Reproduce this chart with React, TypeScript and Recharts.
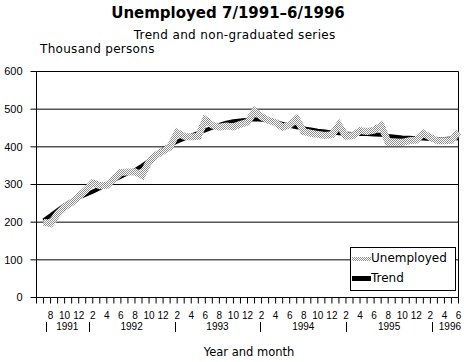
import React from 'react';
import { LineChart, Line, XAxis, YAxis, CartesianGrid, ReferenceLine, Legend } from 'recharts';

// Month index 1 = 7/1991 ... 60 = 6/1996 (index 0 = 6/1991, axis start)
const unemployed = [
  200, 196, 222, 240, 252, 268, // Jul-Dec 1991
  285, 304, 297, 298, 315, 332, 333, 334, 324, 360, 378, 388, // 1992
  400, 438, 428, 426, 428, 472, 458, 452, 455, 453, 460, 465, // 1993
  495, 480, 470, 464, 452, 458, 474, 440, 436, 433, 430, 432, // 1994
  458, 428, 430, 443, 441, 444, 456, 412, 413, 412, 416, 418, // 1995
  436, 425, 416, 416, 417, 440, // Jan-Jun 1996
];

const trend = [
  205, 218, 232, 245, 256, 265, // Jul-Dec 1991
  273, 281, 290, 302, 312, 321, 330, 338, 350, 363, 378, 393, // 1992
  404, 414, 422, 430, 437, 444, 451, 458, 464, 468, 470, 472, // 1993
  473, 472, 470, 466, 461, 456, 452, 449, 446, 443, 441, 438, // 1994
  436, 435, 434, 434, 434, 433, 432, 429, 427, 425, 424, 423, // 1995
  422, 421, 421, 421, 422, 423, // Jan-Jun 1996
];

const monthLabels = [
  '', '', '8', '', '10', '', '12', '', '2', '', '4', '', '6',
  '', '8', '', '10', '', '12', '', '2', '', '4', '', '6',
  '', '8', '', '10', '', '12', '', '2', '', '4', '', '6',
  '', '8', '', '10', '', '12', '', '2', '', '4', '', '6',
  '', '8', '', '10', '', '12', '', '2', '', '4', '', '6',
];

const yearLabels = ['1991', '1992', '1993', '1994', '1995', '1996'];
const yearStartMonth = [1, 7, 19, 31, 43, 55];
const yTicks = [0, 100, 200, 300, 400, 500, 600];
const seriesNames = ['Unemployed', 'Trend'];

const data = unemployed.map((u, i) => ({ m: i + 1, unemployed: u, trend: trend[i] }));
const monthTicks = monthLabels.map((_, i) => i);
const SEP_SHIFT = 0.3;
const yearSeps = yearStartMonth.map((s) => s + SEP_SHIFT);
const yearCenters = yearSeps.map(
  (s, i) => (s + (i + 1 < yearSeps.length ? yearSeps[i + 1] : 60 + SEP_SHIFT)) / 2
);
const yearTicks = [...yearSeps, ...yearCenters].sort((a, b) => a - b);

const TICK_FONT = '"Liberation Sans", Arial, sans-serif';
const TEXT_FONT = '"DejaVu Sans", Verdana, sans-serif';
const DITHER_LIGHT = '#ffffff';
const DITHER_DARK = '#909090';

function YearTick(props: any) {
  const { x, y, payload } = props;
  const v = payload.value;
  const si = yearSeps.findIndex((s) => Math.abs(s - v) < 1e-6);
  if (si >= 0) {
    const px = Math.round(x) + 0.5;
    return (
      <line x1={px} x2={px} y1={y + 2} y2={y + 12.5} stroke="#000" strokeWidth={1} shapeRendering="crispEdges" />
    );
  }
  const ci = yearCenters.findIndex((c) => Math.abs(c - v) < 1e-6);
  return (
    <text x={x} y={y + 10.5} textAnchor="middle" fontFamily={TICK_FONT} fontSize={10} fill="#000">
      {ci >= 0 ? yearLabels[ci] : ''}
    </text>
  );
}

function LegendBox() {
  return (
    <div
      style={{
        width: 106,
        height: 44,
        boxSizing: 'border-box',
        border: '1px solid #000',
        background: '#fff',
      }}
    >
      <svg width={104} height={42} style={{ display: 'block' }}>
        <defs>
          <pattern id="ldither" x="0" y="0" width="2" height="2" patternUnits="userSpaceOnUse">
            <rect width="2" height="2" fill={DITHER_LIGHT} />
            <rect x="0" y="0" width="1" height="1" fill={DITHER_DARK} />
            <rect x="1" y="1" width="1" height="1" fill={DITHER_DARK} />
          </pattern>
        </defs>
        <rect x={1} y={9} width={19} height={4} fill="url(#ldither)" />
        <text x={20} y={13.7} fontFamily={TEXT_FONT} fontSize={12} fill="#000">
          {seriesNames[0]}
        </text>
        <rect x={1} y={28} width={19} height={5} fill="#000" />
        <text x={20} y={33.7} fontFamily={TEXT_FONT} fontSize={12} fill="#000">
          {seriesNames[1]}
        </text>
      </svg>
    </div>
  );
}

export default function App() {
  return (
    <div style={{ position: 'absolute', left: 0, top: 0, width: 464, height: 362, background: '#fff' }}>
      <LineChart
        width={464}
        height={362}
        data={data}
        margin={{ top: 71.5, right: 5.5, left: 0, bottom: 26.5 }}
      >
        <defs>
          <pattern id="dither" x="0" y="0" width="2" height="2" patternUnits="userSpaceOnUse">
            <rect width="2" height="2" fill={DITHER_LIGHT} />
            <rect x="0" y="0" width="1" height="1" fill={DITHER_DARK} />
            <rect x="1" y="1" width="1" height="1" fill={DITHER_DARK} />
          </pattern>
        </defs>
        <CartesianGrid vertical={false} stroke="#000" strokeWidth={1} xAxisId="m" />
        <XAxis
          xAxisId="m"
          dataKey="m"
          type="number"
          domain={[0, 60]}
          ticks={monthTicks}
          interval={0}
          tickSize={6}
          tickMargin={8}
          height={22}
          stroke="#000"
          axisLine={{ stroke: '#000' }}
          tickLine={{ stroke: '#000' }}
          tickFormatter={(v: number) => monthLabels[v] ?? ''}
          tick={{ fill: '#000', fontSize: 10, fontFamily: TICK_FONT }}
        />
        <XAxis
          xAxisId="yr"
          type="number"
          domain={[0, 60]}
          allowDataOverflow
          ticks={yearTicks}
          interval={0}
          axisLine={false}
          tickLine={false}
          tickSize={0}
          tickMargin={0}
          height={16}
          tick={(p: any) => <YearTick {...p} />}
        />
        <YAxis
          type="number"
          domain={[0, 600]}
          ticks={yTicks}
          interval={0}
          width={36.5}
          tickSize={6}
          tickMargin={8}
          stroke="#000"
          axisLine={{ stroke: '#000' }}
          tickLine={{ stroke: '#000' }}
          tick={{ fill: '#000', fontSize: 11, fontFamily: TICK_FONT }}
        />
        <ReferenceLine xAxisId="m" x={60} stroke="#000" strokeWidth={1} />
        <Line
          xAxisId="m"
          type="linear"
          dataKey="trend"
          name={seriesNames[1]}
          stroke="#000"
          strokeWidth={4}
          dot={false}
          activeDot={false}
          isAnimationActive={false}
        />
        <Line
          xAxisId="m"
          type="linear"
          dataKey="unemployed"
          name={seriesNames[0]}
          stroke="url(#dither)"
          strokeWidth={7}
          dot={false}
          activeDot={false}
          isAnimationActive={false}
        />
        <Legend
          layout="vertical"
          align="center"
          verticalAlign="middle"
          content={() => <LegendBox />}
          wrapperStyle={{ left: 350, top: 247, width: 106, height: 44 }}
        />
      </LineChart>
      <svg
        width={464}
        height={362}
        style={{ position: 'absolute', left: 0, top: 0, pointerEvents: 'none' }}
      >
        <text x={228} y={18.3} textAnchor="middle" fontFamily={TEXT_FONT} fontWeight="bold" fontSize={15} fill="#000">
          Unemployed 7/1991–6/1996
        </text>
        <text x={234.7} y={39.3} textAnchor="middle" fontFamily={TEXT_FONT} fontSize={12} letterSpacing={0.35} fill="#000">
          Trend and non-graduated series
        </text>
        <text x={40} y={53.3} fontFamily={TEXT_FONT} fontSize={12} letterSpacing={0.3} fill="#000">
          Thousand persons
        </text>
        <text x={249} y={356} textAnchor="middle" fontFamily={TEXT_FONT} fontSize={11.5} fill="#000">
          Year and month
        </text>
      </svg>
    </div>
  );
}
